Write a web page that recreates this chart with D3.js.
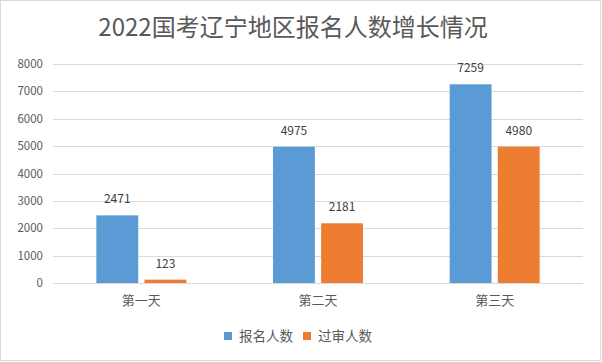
<!DOCTYPE html>
<html>
<head>
<meta charset="utf-8">
<script src="https://cdn.jsdelivr.net/npm/d3@7"></script>
<style>
  body { margin: 0; background: #fff; }
  text { font-family: "Noto Sans CJK SC", "Microsoft YaHei", sans-serif; }
</style>
</head>
<body>
<div id="chart"></div>
<script>
const width = 602, height = 362;

// data
const title = "2022国考辽宁地区报名人数增长情况";
const days = ["第一天", "第二天", "第三天"];
const seriesNames = ["报名人数", "过审人数"];
const signup = [2471, 4975, 7259];
const approved = [123, 2181, 4980];
const yTicks = [0, 1000, 2000, 3000, 4000, 5000, 6000, 7000, 8000];
const colors = ["#5B9BD5", "#ED7D31"];

const margin = {top: 64, right: 19, bottom: 79, left: 53};

var svg = d3.select("#chart")
  .append("svg")
  .attr("width", width)
  .attr("height", height);

// outer border
svg.append("rect")
  .attr("x", 0.5).attr("y", 0.5)
  .attr("width", width - 2).attr("height", height - 2)
  .attr("fill", "#fff")
  .attr("stroke", "#d9d9d9");

svg.append("text")
  .attr("x", 293)
  .attr("y", 36)
  .attr("text-anchor", "middle")
  .attr("font-size", 24)
  .attr("fill", "#595959")
  .text(title);

const y = d3.scaleLinear()
  .domain([0, 8000])
  .range([height - margin.bottom, margin.top]);

const x = d3.scaleBand()
  .domain(days)
  .range([margin.left, width - margin.right]);

const xs = d3.scaleBand()
  .domain(seriesNames)
  .range([-45, 45])
  .paddingInner(0.13);

// grid
svg.append("g")
  .selectAll("line")
  .data(yTicks)
  .enter().append("line")
  .attr("x1", margin.left)
  .attr("x2", width - margin.right)
  .attr("y1", d => Math.round(y(d)) + 0.5)
  .attr("y2", d => Math.round(y(d)) + 0.5)
  .attr("stroke", "#d9d9d9");

// y labels
svg.append("g")
  .selectAll("text")
  .data(yTicks)
  .enter().append("text")
  .attr("x", 43)
  .attr("y", d => y(d) + 4)
  .attr("text-anchor", "end")
  .attr("font-size", 11.5)
  .attr("fill", "#595959")
  .text(d => d);

const rows = days.map((d, i) => ({day: d, values: [signup[i], approved[i]]}));

const groups = svg.append("g")
  .selectAll("g")
  .data(rows)
  .enter().append("g")
  .attr("transform", d => `translate(${x(d.day) + x.bandwidth() / 2},0)`);

groups.selectAll("rect")
  .data(d => d.values.map((v, j) => ({name: seriesNames[j], v: v, j: j})))
  .enter().append("rect")
  .attr("x", d => xs(d.name))
  .attr("width", xs.bandwidth())
  .attr("y", d => y(d.v))
  .attr("height", d => y(0) - y(d.v))
  .attr("fill", d => colors[d.j]);

groups.selectAll("text.val")
  .data(d => d.values.map((v, j) => ({name: seriesNames[j], v: v})))
  .enter().append("text")
  .attr("class", "val")
  .attr("x", d => xs(d.name) + xs.bandwidth() / 2)
  .attr("y", d => y(d.v) - 12)
  .attr("text-anchor", "middle")
  .attr("font-size", 12)
  .attr("fill", "#404040")
  .text(d => d.v);

// category labels
svg.append("g")
  .selectAll("text")
  .data(days)
  .enter().append("text")
  .attr("x", d => x(d) + x.bandwidth() / 2)
  .attr("y", 305)
  .attr("text-anchor", "middle")
  .attr("font-size", 13)
  .attr("fill", "#595959")
  .text(d => d);

// legend
const legend = svg.append("g");
const legX = [224, 303];
seriesNames.forEach((s, i) => {
  legend.append("rect")
    .attr("x", legX[i]).attr("y", 332)
    .attr("width", 8).attr("height", 8)
    .attr("fill", colors[i]);
  legend.append("text")
    .attr("x", legX[i] + 15)
    .attr("y", 341)
    .attr("font-size", 13.5)
    .attr("fill", "#595959")
    .text(s);
});
</script>
</body>
</html>
